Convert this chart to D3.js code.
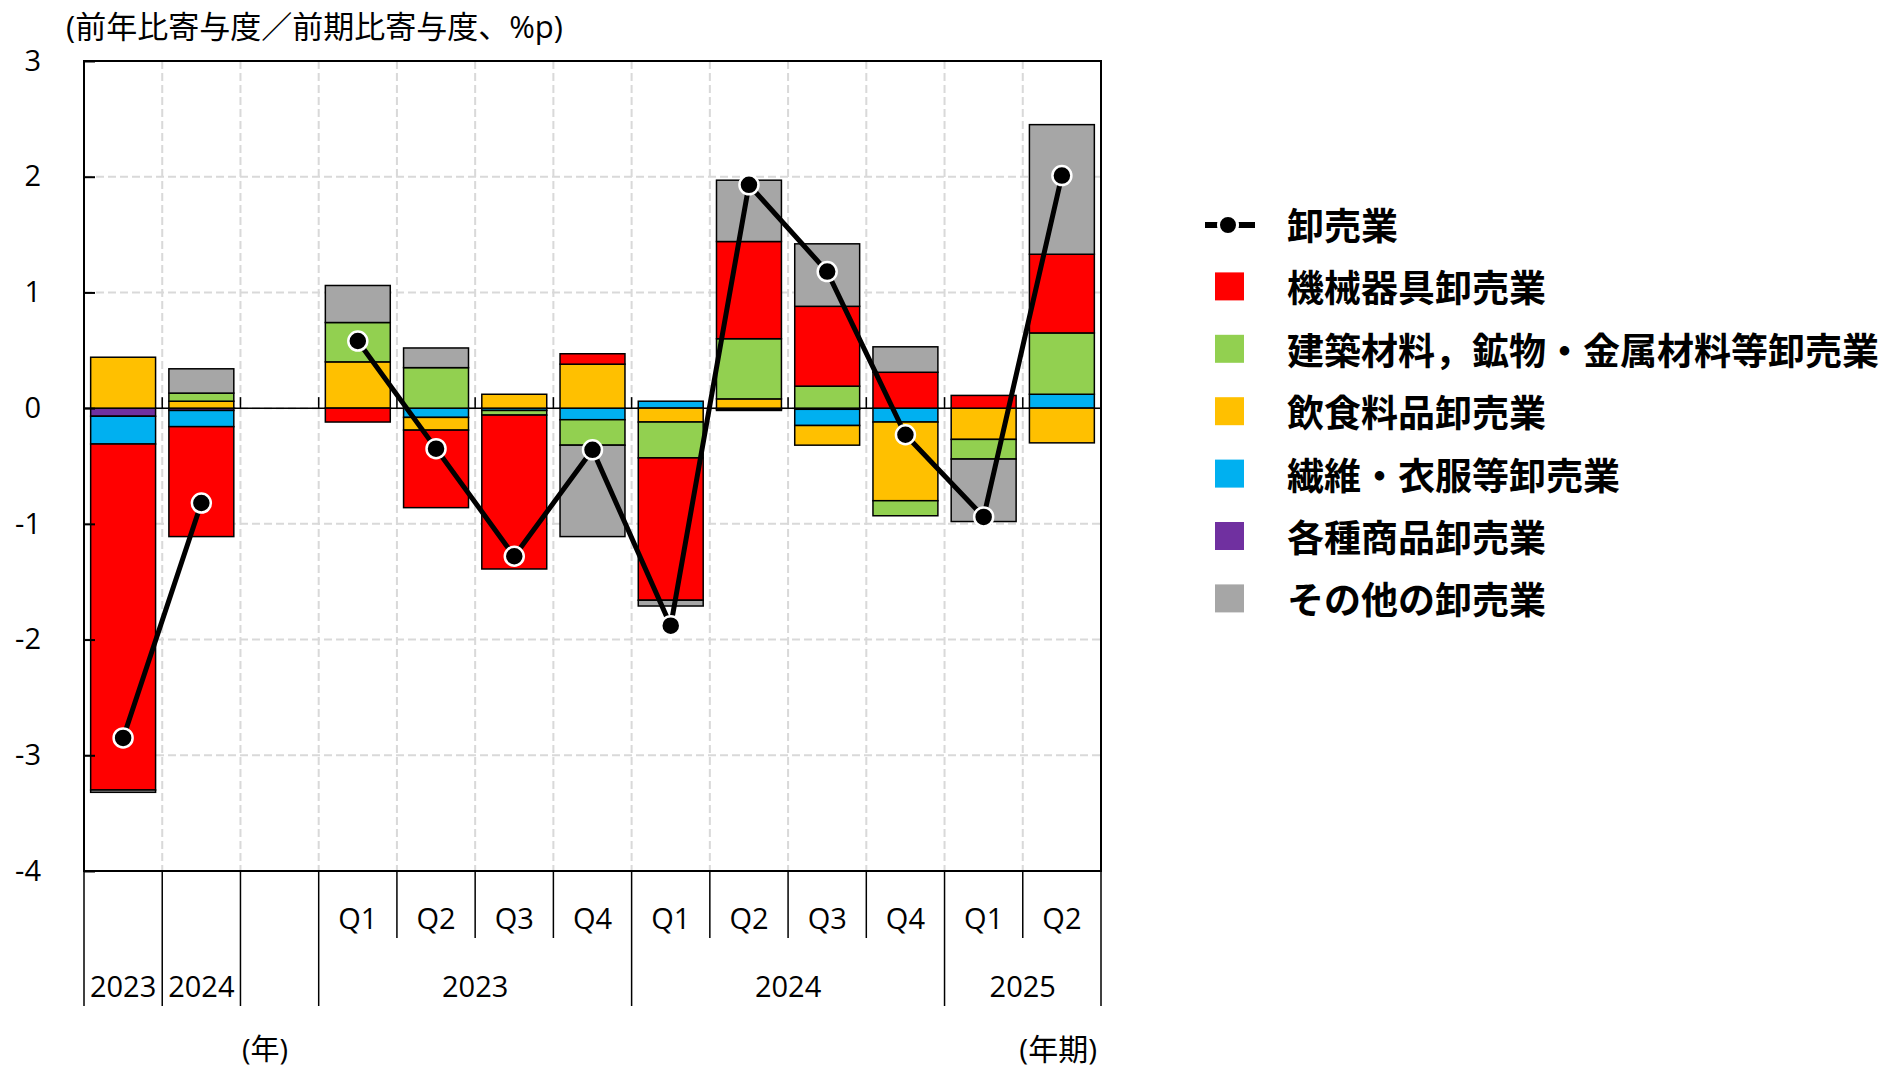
<!DOCTYPE html>
<meta charset="utf-8">
<style>
body { margin:0; background:#fff; }
text { font-family:"Open Sans","Noto Sans CJK JP",sans-serif; fill:#000; }
.grid line { stroke:#d9d9d9; stroke-width:2; stroke-dasharray:8,4; }
.bars rect { stroke:#000; stroke-width:1.5; }
.axis text { font-size:29px; }
.sep line { stroke:#000; stroke-width:1.5; }
.legend text { font-family:"Noto Sans CJK JP",sans-serif; font-weight:bold; font-size:37px; }
</style>
<body>
<script src="https://d3js.org/d3.v7.min.js"></script>
<script>

// periods: two annual bars, an empty slot, then quarters
var periods  = ["2023年","2024年","gap","2023Q1","2023Q2","2023Q3","2023Q4","2024Q1","2024Q2","2024Q3","2024Q4","2025Q1","2025Q2"];
var years    = ["2023","2024","","2023","2023","2023","2023","2024","2024","2024","2024","2025","2025"];
var quarters = ["","","","Q1","Q2","Q3","Q4","Q1","Q2","Q3","Q4","Q1","Q2"];

// contributions, %p
var machinery = [-2.99,-0.95,null,-0.12,-0.67,-1.33, 0.09,-1.23, 0.84, 0.69, 0.31, 0.11, 0.68];
var building  = [ 0.00, 0.07,null, 0.34, 0.35,-0.04,-0.22,-0.31, 0.52, 0.19,-0.13,-0.17, 0.53];
var food      = [ 0.44, 0.06,null, 0.40,-0.11, 0.12, 0.38,-0.12, 0.08,-0.17,-0.68,-0.27,-0.30];
var textile   = [-0.24,-0.14,null, 0.00,-0.08,-0.02,-0.10, 0.06,-0.01,-0.14,-0.12, 0.00, 0.12];
var general   = [-0.07,-0.02,null, 0.00, 0.00, 0.00, 0.00, 0.00,-0.01,-0.01, 0.00, 0.00, 0.00];
var other     = [-0.02, 0.21,null, 0.32, 0.17, 0.00,-0.79,-0.05, 0.53, 0.54, 0.22,-0.54, 1.12];
var wholesale = [-2.85,-0.82,null, 0.58,-0.35,-1.28,-0.36,-1.88, 1.93, 1.18,-0.23,-0.94, 2.01];

var yTicks = [-4,-3,-2,-1,0,1,2,3];

var series = {
	machinery:{name:"機械器具卸売業", color:"#ff0000", values:machinery},
	building:{name:"建築材料，鉱物・金属材料等卸売業", color:"#92d050", values:building},
	food:{name:"飲食料品卸売業", color:"#ffc000", values:food},
	textile:{name:"繊維・衣服等卸売業", color:"#00b0f0", values:textile},
	general:{name:"各種商品卸売業", color:"#7030a0", values:general},
	other:{name:"その他の卸売業", color:"#a6a6a6", values:other}
};
var stackOrder  = ["general","textile","food","building","machinery","other"];
var legendOrder = ["machinery","building","food","textile","general","other"];

var svg = d3.select("body").append("svg").attr("width",1887).attr("height",1069);

var pL=84, pR=1101, pT=61, pB=871;

var x = d3.scaleBand().domain(periods).range([pL,pR]).paddingInner(0.17).paddingOuter(0.085);
var y = d3.scaleLinear().domain([-4,3]).range([pB,pT]);
var step = x.step();
var edge = i => pL + i*step;

// grid
var grid = svg.append("g").attr("class","grid");
grid.selectAll(".h").data(yTicks.filter(d=>d>-4 && d<3)).join("line").attr("class","h")
	.attr("x1",pL).attr("x2",pR).attr("y1",d=>y(d)).attr("y2",d=>y(d));
grid.selectAll(".v").data(d3.range(1,periods.length)).join("line").attr("class","v")
	.attr("x1",edge).attr("x2",edge).attr("y1",pT).attr("y2",pB);

// zero line
svg.append("line").attr("x1",pL).attr("x2",pR).attr("y1",y(0)).attr("y2",y(0))
	.attr("stroke","#000").attr("stroke-width",1.5);

// stacked bars
var rows = periods.map(function(p,i){
	var r = {period:p};
	stackOrder.forEach(k => r[k] = series[k].values[i] || 0);
	return r;
});
var stacked = d3.stack().keys(stackOrder).offset(d3.stackOffsetDiverging)(rows);

svg.append("g").attr("class","bars").selectAll("g").data(stacked).join("g")
	.attr("fill",d=>series[d.key].color)
	.selectAll("rect").data(d=>d.filter(s=>s[0]!==s[1])).join("rect")
	.attr("x",d=>x(d.data.period))
	.attr("width",x.bandwidth())
	.attr("y",d=>y(Math.max(d[0],d[1])))
	.attr("height",d=>Math.abs(y(d[0])-y(d[1])));

// frame
svg.append("rect").attr("x",pL).attr("y",pT).attr("width",pR-pL).attr("height",pB-pT)
	.attr("fill","none").attr("stroke","#000").attr("stroke-width",2);

// small ticks on the zero line
svg.append("g").selectAll("line").data(d3.range(1,periods.length)).join("line")
	.attr("x1",edge).attr("x2",edge).attr("y1",y(0)).attr("y2",y(0)-11)
	.attr("stroke","#000").attr("stroke-width",1.5);

// y axis
var yAxis = svg.append("g").attr("class","axis").attr("transform","translate("+pL+",0)")
	.call(d3.axisLeft(y).tickValues(yTicks).tickSize(-11).tickPadding(43).tickFormat(d=>String(d)));
yAxis.select(".domain").remove();
yAxis.selectAll(".tick line").attr("stroke","#000").attr("stroke-width",2);
yAxis.selectAll("text").attr("fill","#000");
yAxis.attr("font-family",null).attr("font-size",null);

// x axis: quarter labels
var xAxis = svg.append("g").attr("class","axis").attr("transform","translate(0,"+pB+")")
	.call(d3.axisBottom(x).tickSize(0).tickPadding(37).tickFormat((d,i)=>quarters[i]));
xAxis.select(".domain").remove();
xAxis.selectAll("text").attr("fill","#000");
xAxis.attr("font-family",null).attr("font-size",null);

// separators under the plot
var sep = svg.append("g").attr("class","sep");
d3.range(0,periods.length+1).forEach(function(i){
	var full = i==0 || i==periods.length || quarters[i]=="Q1" || quarters[i]=="" || quarters[i-1]=="";
	sep.append("line").attr("x1",edge(i)).attr("x2",edge(i))
		.attr("y1",pB).attr("y2",full?1006:938);
});

// year labels
var groups = [];
periods.forEach(function(p,i){
	if (years[i]=="") return;
	var last = groups[groups.length-1];
	if (quarters[i]!="" && last && last.year==years[i] && last.q) last.end=i;
	else groups.push({year:years[i], start:i, end:i, q:quarters[i]!=""});
});
svg.append("g").attr("class","axis").selectAll("text").data(groups).join("text")
	.attr("x",d=>(edge(d.start)+edge(d.end+1))/2).attr("y",997)
	.attr("text-anchor","middle").text(d=>d.year);

svg.append("text").attr("x",265).attr("y",1060).attr("text-anchor","middle")
	.style("font-size","29px").text("(年)");
svg.append("text").attr("x",1097).attr("y",1060).attr("text-anchor","end")
	.style("font-size","30px").text("(年期)");

// title
svg.append("text").attr("x",66).attr("y",38).style("font-size","31px")
	.text("(前年比寄与度／前期比寄与度、%p)");

// total line
var line = d3.line().defined(d=>d.v!=null)
	.x(d=>x(d.p)+x.bandwidth()/2).y(d=>y(d.v));
var pts = periods.map((p,i)=>({p:p, v:wholesale[i]}));
svg.append("path").datum(pts).attr("d",line)
	.attr("fill","none").attr("stroke","#000").attr("stroke-width",5);
svg.append("g").selectAll("circle").data(pts.filter(d=>d.v!=null)).join("circle")
	.attr("cx",d=>x(d.p)+x.bandwidth()/2).attr("cy",d=>y(d.v)).attr("r",9.5)
	.attr("fill","#000").attr("stroke","#fff").attr("stroke-width",2.5);

// legend
var legend = svg.append("g").attr("class","legend").attr("transform","translate(1203,224)");
var gap = 62.4;
legend.append("line").attr("x1",2).attr("x2",52).attr("y1",1).attr("y2",1)
	.attr("stroke","#000").attr("stroke-width",6);
legend.append("circle").attr("cx",25).attr("cy",1).attr("r",9.5)
	.attr("fill","#000").attr("stroke","#fff").attr("stroke-width",3);
legend.append("text").attr("x",84).attr("y",0).attr("dominant-baseline","central").text("卸売業");

legendOrder.forEach(function(k,i){
	var row = legend.append("g").attr("transform","translate(0,"+(gap*(i+1))+")");
	row.append("rect").attr("x",12).attr("y",-14).attr("width",29).attr("height",28)
		.attr("fill",series[k].color);
	row.append("text").attr("x",84).attr("y",0).attr("dominant-baseline","central").text(series[k].name);
});

</script>
</body>
